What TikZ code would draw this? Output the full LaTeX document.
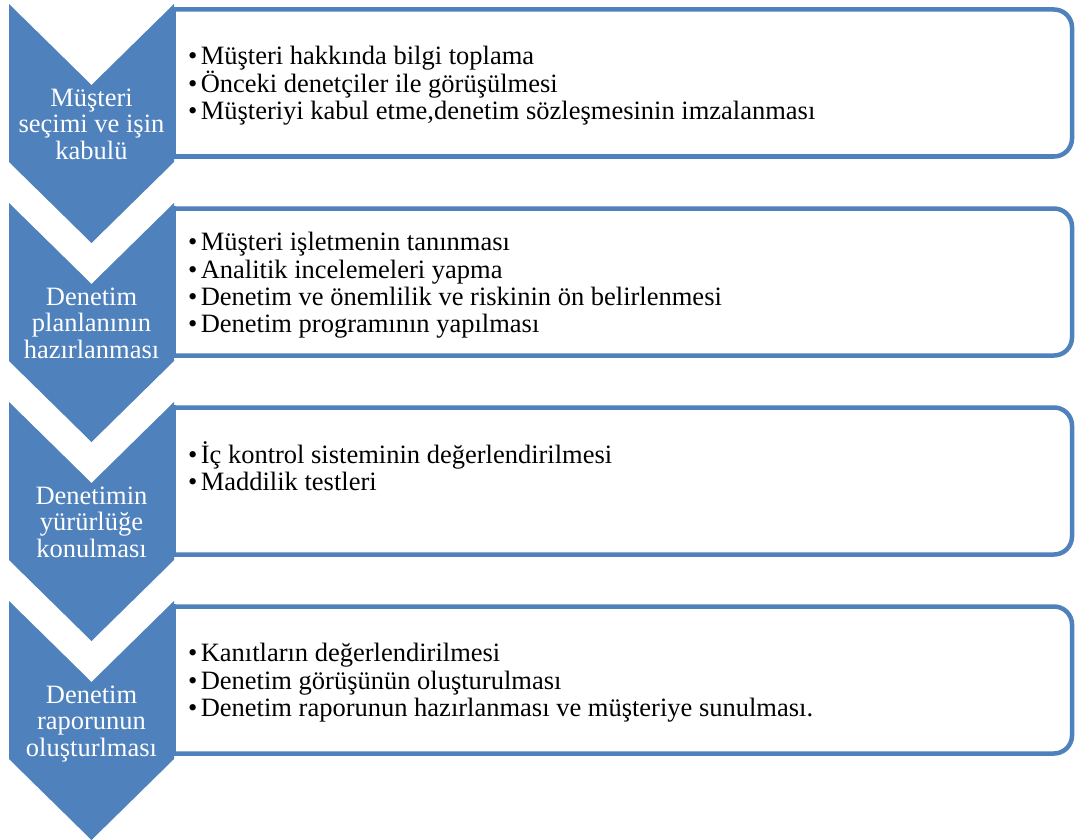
\documentclass[tikz,border=0pt]{standalone}
\usepackage{fontspec}
\setmainfont{Liberation Serif}
\definecolor{accent}{HTML}{4F81BD}
\newcommand\mybullet{\makebox[12.6pt][l]{•}}
\begin{document}
\begin{tikzpicture}[x=1pt,y=-1pt,
  chev/.style={fill=accent,draw=none},
  boxline/.style={draw=accent,line width=4.5pt,line cap=rect},
  lab/.style={text=white,font=\fontsize{26.5}{26.5}\selectfont,align=center,anchor=base,inner sep=0pt},
  items/.style={text=black,font=\fontsize{26.5}{27.3}\selectfont,align=left,anchor=base west,inner sep=0pt}]
\useasboundingbox (0,0) rectangle (1076,840);
\fill[white] (0,0) rectangle (1076,840);
\foreach \T in {4,203,402,601} {
  \draw[boxline,rounded corners=18pt] (174,\T+5.5) -- (1072,\T+5.5) -- (1072,\T+152.5) -- (174,\T+152.5);
  \draw[boxline] (174,\T+5.5) -- (174,\T+152.5);
  \fill[chev] (9,\T) -- (91.5,\T+81) -- (174,\T) -- (174,\T+158) -- (91.5,\T+239) -- (9,\T+158) -- cycle;
}
% labels: anchor base = baseline of the last line
\node[lab] (c1) at (91.5,159) {Müşteri\\seçimi ve işin\\kabulü};
\node[lab] (c2) at (91.5,358) {Denetim\\planlanının\\hazırlanması};
\node[lab] (c3) at (91.5,557) {Denetimin\\yürürlüğe\\konulması};
\node[lab] (c4) at (91.5,756) {Denetim\\raporunun\\oluşturlması};
\node[items] (b1) at (188,119.6) {\mybullet Müşteri hakkında bilgi toplama\\\mybullet Önceki denetçiler ile görüşülmesi\\\mybullet Müşteriyi kabul etme,denetim sözleşmesinin imzalanması};
\node[items] (b2) at (188,332.6) {\mybullet Müşteri işletmenin tanınması\\\mybullet Analitik incelemeleri yapma\\\mybullet Denetim ve önemlilik ve riskinin ön belirlenmesi\\\mybullet Denetim programının yapılması};
\node[items] (b3) at (188,490.6) {\mybullet İç kontrol sisteminin değerlendirilmesi\\\mybullet Maddilik testleri};
\node[items] (b4) at (188,716.3) {\mybullet Kanıtların değerlendirilmesi\\\mybullet Denetim görüşünün oluşturulması\\\mybullet Denetim raporunun hazırlanması ve müşteriye sunulması.};
\end{tikzpicture}
\end{document}
